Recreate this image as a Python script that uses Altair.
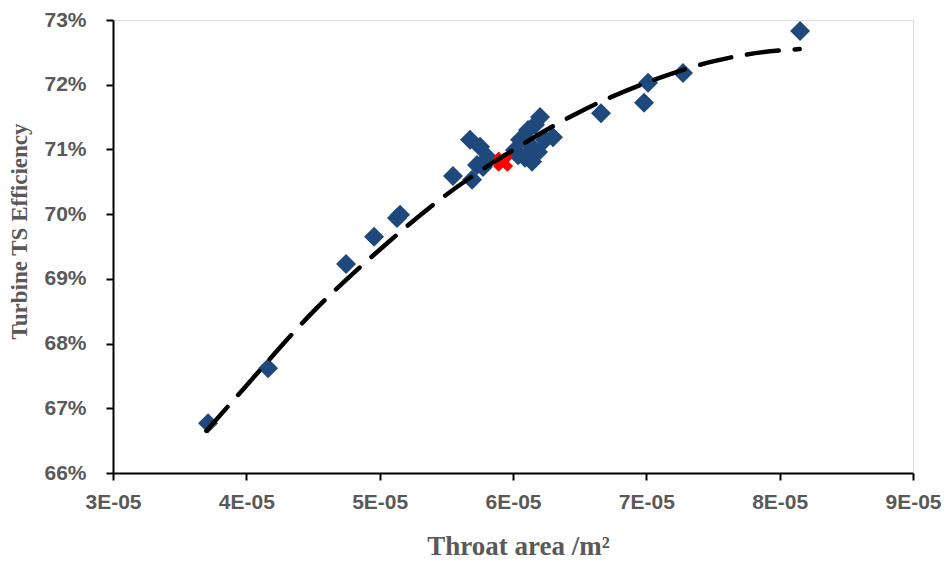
import altair as alt
import pandas as pd

# Scatter data (throat area in 1e-5 m^2, efficiency in %)
area_e5 = [3.713, 4.163, 4.748, 4.958, 5.130, 5.153, 5.550, 5.678, 5.753, 5.693,
           5.730, 5.775, 5.813, 6.203, 6.165, 6.113, 6.300, 6.240, 6.053, 6.128,
           6.015, 6.188, 6.090, 6.143, 6.038, 6.660, 6.983, 7.013, 7.275, 8.153]
eff_pct = [66.77, 67.62, 69.23, 69.65, 69.94, 69.99, 70.59, 71.15, 71.04, 70.53,
           70.76, 70.73, 70.87, 71.50, 71.38, 71.30, 71.19, 71.15, 71.15, 71.07,
           70.99, 70.96, 70.87, 70.81, 70.91, 71.56, 71.72, 72.03, 72.18, 72.83]

# Highlighted (red) design point
red_area_e5 = [5.925]
red_eff_pct = [70.81]

# Trend line
trend_area_e5 = [3.70, 4.00, 4.50, 5.00, 5.50, 6.00, 6.50, 7.00, 7.50, 8.00, 8.15]
trend_eff_pct = [66.65, 67.35, 68.49, 69.45, 70.30, 70.99, 71.58, 72.03, 72.36, 72.53, 72.55]

x_ticks_e5 = [3, 4, 5, 6, 7, 8, 9]
y_ticks_pct = [66, 67, 68, 69, 70, 71, 72, 73]

pts = pd.DataFrame({"x": [a * 1e-5 for a in area_e5], "y": [e / 100 for e in eff_pct]})
red = pd.DataFrame({"x": [a * 1e-5 for a in red_area_e5], "y": [e / 100 for e in red_eff_pct]})
trend = pd.DataFrame({"x": [a * 1e-5 for a in trend_area_e5], "y": [e / 100 for e in trend_eff_pct]})

label_font = "Liberation Sans, Arial, sans-serif"
title_font = "Liberation Serif, Times New Roman, serif"
gray = "#595959"

x_enc = alt.X(
    "x:Q",
    scale=alt.Scale(domain=[3e-5, 9e-5], nice=False, zero=False),
    axis=alt.Axis(
        title="Throat area /m²",
        values=[v * 1e-5 for v in x_ticks_e5],
        labelExpr="round(datum.value*1e5) + 'E-05'",
        labelFlush=False, labelOverlap=False,
        grid=False,
        domainColor="black", domainWidth=2,
        tickColor="black", tickWidth=2, tickSize=7,
        labelFont=label_font, labelFontSize=21, labelFontWeight="bold", labelColor=gray,
        labelPadding=11,
        titleFont=title_font, titleFontSize=27, titleFontWeight="bold", titleColor=gray,
        titleX=405, titleY=73, titleBaseline="middle", titleAlign="center",
    ),
)
y_enc = alt.Y(
    "y:Q",
    scale=alt.Scale(domain=[0.66, 0.73], nice=False, zero=False),
    axis=alt.Axis(
        title="Turbine TS Efficiency",
        values=[v / 100 for v in y_ticks_pct],
        format=".0%",
        labelFlush=False, labelOverlap=False,
        grid=False,
        domainColor="black", domainWidth=2,
        tickColor="black", tickWidth=2, tickSize=7,
        labelFont=label_font, labelFontSize=21, labelFontWeight="bold", labelColor=gray,
        labelPadding=20,
        titleFont=title_font, titleFontSize=23, titleFontWeight="bold", titleColor=gray,
        titleAngle=270, titleX=-94, titleY=211, titleBaseline="middle", titleAlign="center",
    ),
)

blue_layer = alt.Chart(pts).mark_point(
    shape="diamond", size=400, filled=True, color="#1F497D", opacity=1
).encode(x=x_enc, y=y_enc)

red_layer = alt.Chart(red).mark_point(
    shape="cross", size=420, filled=True, color="#FF0000", opacity=1, angle=45
).encode(x="x:Q", y="y:Q")

trend_layer = alt.Chart(trend).mark_line(
    color="black", strokeWidth=4.5, strokeDash=[32, 16], strokeCap="round",
    interpolate="monotone"
).encode(x="x:Q", y="y:Q")

chart = alt.layer(blue_layer, red_layer, trend_layer).properties(
    width=800, height=453,
    autosize=alt.AutoSizeParams(type="none"),
    padding={"left": 113, "top": 20, "right": 33, "bottom": 88},
).configure_view(stroke=None).configure(background="white")

chart.save("out.html", embed_options={"renderer": "svg", "actions": False})
